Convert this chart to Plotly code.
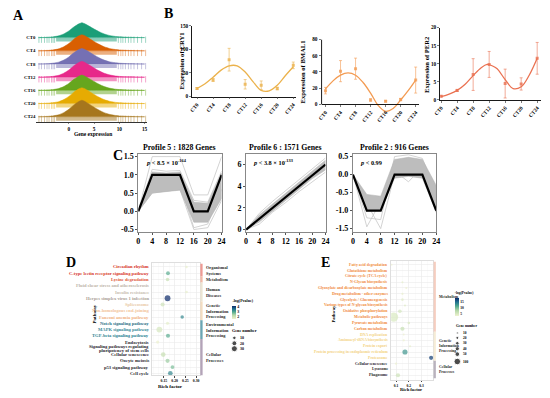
import plotly.graph_objects as go

W, H = 550, 398
SERIF = "Liberation Serif, Times New Roman, serif"

# ---------------- DATA ----------------
# Panel A: ridgeline densities
CT_LABELS = ["CT0", "CT4", "CT8", "CT12", "CT16", "CT20", "CT24"]
CT_HOURS = [0, 4, 8, 12, 16, 20, 24]
RIDGE_COLORS = ["#1b9e77", "#d95f02", "#7570b3", "#e7298a", "#66a61e", "#e6ab02", "#a6761d"]
DENS_X = [-6, -4, -3, -2, -1, 0, 1, 2, 2.6, 3.2, 4, 5, 6, 7, 8, 9, 10, 12, 15]
DENS_Y = [0.0, 0.02, 0.06, 0.12, 0.25, 0.45, 0.72, 0.93, 1.0, 0.93, 0.78, 0.58, 0.4, 0.25, 0.15, 0.09, 0.05, 0.02, 0.0]
RIDGE_PEAK = [1.12, 1.22, 1.18, 1.2, 1.16, 1.2, 1.25]
RUG_CORE = [-2.5, 9.5]
RUG_TICKS = [-5.9, -5.4, -4.8, -4.3, -3.9, -3.4, -3.1, -2.8, 9.8, 10.3, 10.7, 11.2, 11.8, 12.3, 12.9, 13.6, 14.4, 15.2]
A_XTICKS = [0, 5, 10, 15]

# Panel B: clock genes (mean, error) and fitted curves
GENES = ["CRY1", "BMAL1", "PER2"]
CRY1_MEAN = [17, 35, 78, 26, 24, 17, 66]
CRY1_ERR = [2, 3, 24, 10, 9, 3, 7]
BMAL1_MEAN = [17, 41, 44, 5.5, 4, 6, 30]
BMAL1_ERR = [4, 13, 13, 1.5, 1, 1.5, 16]
PER2_MEAN = [1.0, 2.6, 7.0, 9.8, 4.5, 4.4, 11.5]
PER2_ERR = [0.2, 0.3, 4.4, 3.6, 4.0, 1.7, 4.4]
FIT_T = [0, 2, 4, 6, 8, 10, 12, 14, 16, 18, 20, 22, 24]
CRY1_FIT = [17, 27, 41, 56, 65, 65, 52, 31, 13, 12, 24, 44, 63]
BMAL1_FIT = [19, 29, 36, 38.8, 36, 27, 14, -1, -8.5, -5, 5.5, 17, 30]
PER2_FIT_T = [0, 2, 4, 6, 8, 10, 11.5, 13, 14, 16, 18, 20, 22, 24]
PER2_FIT = [0.9, 1.6, 2.6, 4.3, 6.7, 8.9, 9.8, 9.3, 8.6, 5.6, 3.1, 3.6, 6.8, 11.5]
B_YTICKS = [[0, 50, 100, 150], [0, 20, 40, 60, 80], [0, 5, 10, 15, 20]]

# Panel C: STEM profiles
C_T = [0, 4, 8, 12, 16, 20, 24]
PROF_TITLES = ["Profile 5 : 1828 Genes", "Profile 6 : 1571 Genes", "Profile 2 : 916 Genes"]
PROF_P = ["<i>p</i> < 8.5 × 10<sup>-164</sup>", "<i>p</i> < 3.8 × 10<sup>-133</sup>", "<i>p</i> < 0.99"]
PROF5 = [0, 1, 1, 1, 0, 0, 1]
PROF6 = [0, 1, 2, 3, 4, 5, 6]
PROF2 = [0, -1, -1, 0, 0, 0, -1]
BAND5_HI = [0, 1.08, 1.05, 1.08, 0.25, 0.22, 1.05]
BAND5_LO = [0, 0.5, 0.55, 0.58, -0.3, -0.3, 0.35]
BAND6_HI = [0, 1.35, 2.35, 3.35, 4.4, 5.4, 6.4]
BAND6_LO = [0, 0.7, 1.7, 2.7, 3.7, 4.7, 5.5]
BAND2_HI = [0, -0.55, -0.6, 0.42, 0.48, 0.42, -0.3]
BAND2_LO = [0, -1.02, -1.0, -0.1, -0.05, -0.1, -1.05]
OUT5 = [[0, 1.5, 1.5, 1.5, 0.45, 0.45, 1.5], [0, 1.15, 1.1, 1.12, 0.3, 0.25, 1.1],
        [0, 0.5, 0.55, 0.6, -0.5, -0.45, 0.3], [0, 0.7, 0.8, 0.75, -0.45, -0.35, 0.6]]
OUT6 = [[0, 1.5, 2.6, 3.6, 4.6, 5.6, 6.6], [0, 0.5, 1.6, 2.5, 3.5, 4.4, 5.3]]
OUT2 = [[0, -1.45, -0.75, 0.1, 0.3, 0.2, -0.6], [0, -0.8, -1.5, 0.0, 0.2, 0.3, -0.7],
        [0, -1.2, -1.25, 0.5, 0.55, 0.45, -0.5], [0, -0.7, -0.7, 0.1, -0.2, 0.2, -0.9]]

# Panel D: KEGG enrichment
D_PATHWAYS = ["Circadian rhythm", "C-type lectin receptor signaling pathway", "Lysine degradation",
              "Fluid shear stress and atherosclerosis", "Insulin resistance", "Herpes simplex virus 1 infection",
              "Spliceosome", "Non-homologous end-joining", "Fanconi anemia pathway",
              "Notch signaling pathway", "MAPK signaling pathway", "TGF-beta signaling pathway",
              "Endocytosis", "Signaling pathways regulating<br>pluripotency of stem cells", "Cellular senescence",
              "Oocyte meiosis", "p53 signaling pathway", "Cell cycle"]
D_TEXT_COLORS = ["#d7372a", "#d7372a", "#e0583a", "#bdb4a8", "#c9c0b2", "#aba198",
                 "#e9caa6", "#f2c39a", "#f0b283", "#2b6f86", "#3a8a9a", "#2a7f90",
                 "#2b1f2f", "#2b1f2f", "#2b1f2f", "#2b1f2f", "#2b1f2f", "#2b1f2f"]
D_ROW = [0, 1, 2, 4, 5, 6, 8, 9, 10, 11, 12, 14, 15, 16, 17]
D_RICH = [0.255, 0.169, 0.167, 0.255, 0.167, 0.144, 0.235, 0.167, 0.129, 0.169, 0.121, 0.147, 0.167, 0.19, 0.18]
D_COUNT = [5, 12, 10, 6, 28, 14, 10, 8, 28, 14, 8, 18, 14, 12, 18]
D_LOGP = [1.75, 3.0, 2.2, 1.75, 4.3, 2.1, 3.4, 1.8, 2.0, 3.0, 1.7, 2.2, 2.6, 2.8, 3.4]
D_CATS = ["Organismal<br>Systems", "Metabolism", "Human<br>Diseases", "Genetic<br>Information<br>Processing",
          "Environmental<br>Information<br>Processing", "Cellular<br>Processes"]
D_CAT_ROWS = [[0, 1], [2, 2], [3, 5], [6, 8], [9, 11], [12, 17]]
D_CAT_COLORS = ["#ee9a94", "#f2b9a6", "#ece4d2", "#f3dcc0", "#6aa6b4", "#b3a3b8"]
D_XTICKS = [0.15, 0.20, 0.25, 0.30]
D_SIZE_LEG = [10, 20, 30]
D_CB_TICKS = [2, 3, 4]

# Panel E: KEGG enrichment
E_PATHWAYS = ["Fatty acid degradation", "Glutathione metabolism", "Citrate cycle (TCA cycle)",
              "N-Glycan biosynthesis", "Glyoxylate and dicarboxylate metabolism", "Drug metabolism - other enzymes",
              "Glycolysis / Gluconeogenesis", "Various types of N-glycan biosynthesis", "Oxidative phosphorylation",
              "Metabolic pathways", "Pyruvate metabolism", "Carbon metabolism", "DNA replication",
              "Aminoacyl-tRNA biosynthesis", "Protein export", "Protein processing in endoplasmic reticulum",
              "Proteasome", "Cellular senescence", "Lysosome", "Phagosome"]
E_TEXT_COLORS = ["#f08a3c"] * 12 + ["#f3d384"] * 5 + ["#2a1e2a"] * 3
E_ROW = [0, 3, 4, 5, 6, 7, 8, 9, 10, 11, 12, 13, 14, 15, 16, 17, 19]
E_RICH = [0.065, 0.15, 0.18, 0.15, 0.15, 0.17, 0.13, 0.08, 0.2, 0.15, 0.16, 0.16, 0.21, 0.17, 0.375, 0.1, 0.115]
E_COUNT = [8, 10, 10, 12, 15, 10, 30, 200, 15, 40, 8, 12, 10, 60, 40, 10, 40]
E_LOGP = [3.5, 4.0, 3.5, 3.8, 4.5, 4.5, 5.5, 5.0, 5.0, 6.5, 3.5, 3.5, 4.0, 13.0, 18.0, 3.4, 6.0]
E_CATS = ["Metabolism", "Genetic<br>Information<br>Processing", "Cellular<br>Processes"]
E_CAT_ROWS = [[0, 11], [12, 16], [17, 19]]
E_CAT_COLORS = ["#f5cdbf", "#f6ecd6", "#b9b2bd"]
E_XTICKS = [0.1, 0.2, 0.3]
E_SIZE_LEG = [10, 20, 30, 40, 50, 100]
E_CB_TICKS = [5, 10, 15]

CSCALE = [[0, "#eef2d0"], [0.3, "#b5d8a8"], [0.55, "#4fa88e"], [0.78, "#1f6f8f"], [1, "#0b2a6a"]]


# ---------------- helpers ----------------
def dx(p0, p1):
    return [p0 / W, p1 / W]


def dy(p0, p1):
    return [1 - p1 / H, 1 - p0 / H]


def rgba(hexc, a):
    h = hexc.lstrip("#")
    return "rgba(%d,%d,%d,%.2f)" % (int(h[0:2], 16), int(h[2:4], 16), int(h[4:6], 16), a)


def d_size(n):
    return 1.1 * n ** 0.5


def e_size(n):
    return 0.66 * n ** 0.5


def font(size, color="#000", bold=True, family=SERIF):
    return dict(family=family, size=size, color=color, weight="bold" if bold else "normal")


fig = go.Figure()
ann = []
shapes = []

# ---------------- Panel A ----------------
nrow = len(CT_LABELS)
for i in range(nrow):
    base = nrow - 1 - i
    col = RIDGE_COLORS[i]
    ys = [base + RIDGE_PEAK[i] * d for d in DENS_Y]
    fig.add_trace(go.Scatter(x=DENS_X + DENS_X[::-1], y=ys + [base] * len(DENS_X), fill="toself",
                             fillcolor=col, line=dict(color=col, width=0.5, shape="spline", smoothing=0.6), mode="lines",
                             xaxis="x", yaxis="y", hoverinfo="skip", showlegend=False))
    fig.add_trace(go.Scatter(x=[RUG_CORE[0], RUG_CORE[1], RUG_CORE[1], RUG_CORE[0]],
                             y=[base - 0.3, base - 0.3, base - 0.02, base - 0.02], fill="toself",
                             fillcolor=rgba(col, 0.5), line=dict(width=0), mode="lines",
                             xaxis="x", yaxis="y", hoverinfo="skip", showlegend=False))
    fig.add_trace(go.Scatter(x=RUG_TICKS, y=[base - 0.16] * len(RUG_TICKS), mode="markers",
                             marker=dict(symbol="line-ns", size=4.5, line=dict(width=0.7, color=rgba(col, 0.6))),
                             xaxis="x", yaxis="y", hoverinfo="skip", showlegend=False))

# ---------------- Panel B ----------------
b_means = [CRY1_MEAN, BMAL1_MEAN, PER2_MEAN]
b_errs = [CRY1_ERR, BMAL1_ERR, PER2_ERR]
b_fit_t = [FIT_T, FIT_T, PER2_FIT_T]
b_fits = [CRY1_FIT, BMAL1_FIT, PER2_FIT]
b_cols = ["#ebb24c", "#f39b52", "#ea7252"]
for k in range(3):
    ax = str(k + 2)
    fig.add_trace(go.Scatter(x=b_fit_t[k], y=b_fits[k], mode="lines", line=dict(color=b_cols[k], width=1.3, shape="spline", smoothing=1.0),
                             xaxis="x" + ax, yaxis="y" + ax, hoverinfo="skip", showlegend=False))
    fig.add_trace(go.Scatter(x=CT_HOURS, y=b_means[k], mode="markers",
                             marker=dict(symbol="square", size=3, color=b_cols[k], opacity=0.8),
                             error_y=dict(type="data", array=b_errs[k], color=rgba(b_cols[k], 0.75), thickness=0.8, width=1.5),
                             xaxis="x" + ax, yaxis="y" + ax, hoverinfo="skip", showlegend=False))

# ---------------- Panel C ----------------
profs = [PROF5, PROF6, PROF2]
bands = [(BAND5_HI, BAND5_LO), (BAND6_HI, BAND6_LO), (BAND2_HI, BAND2_LO)]
outs = [OUT5, OUT6, OUT2]
for k in range(3):
    ax = str(k + 5)
    hi, lo = bands[k]
    for o in outs[k]:
        fig.add_trace(go.Scatter(x=C_T, y=o, mode="lines", line=dict(color="#c8c8c8", width=0.8),
                                 xaxis="x" + ax, yaxis="y" + ax, hoverinfo="skip", showlegend=False))
    fig.add_trace(go.Scatter(x=C_T + C_T[::-1], y=hi + lo[::-1], fill="toself", fillcolor="#bdbdbd",
                             line=dict(color="#b0b0b0", width=0.5), mode="lines",
                             xaxis="x" + ax, yaxis="y" + ax, hoverinfo="skip", showlegend=False))
    fig.add_trace(go.Scatter(x=C_T, y=profs[k], mode="lines", line=dict(color="#000", width=2.2),
                             xaxis="x" + ax, yaxis="y" + ax, hoverinfo="skip", showlegend=False))

# ---------------- Panel D / E ----------------
fig.add_trace(go.Scatter(x=D_RICH, y=D_ROW, mode="markers",
                         marker=dict(size=[d_size(n) for n in D_COUNT], color=D_LOGP, coloraxis="coloraxis", line=dict(width=0)),
                         xaxis="x8", yaxis="y8", hoverinfo="skip", showlegend=False))
fig.add_trace(go.Scatter(x=E_RICH, y=E_ROW, mode="markers",
                         marker=dict(size=[e_size(n) for n in E_COUNT], color=E_LOGP, coloraxis="coloraxis2", line=dict(width=0)),
                         xaxis="x9", yaxis="y9", hoverinfo="skip", showlegend=False))

# size legends (overlay pixel canvas)
d_leg_y = [340, 345.5, 351]
fig.add_trace(go.Scatter(x=[232] * 3, y=d_leg_y, mode="markers",
                         marker=dict(size=[d_size(n) for n in D_SIZE_LEG], color="#000"),
                         xaxis="x10", yaxis="y10", hoverinfo="skip", showlegend=False))
e_leg_y = [335, 340, 345.5, 351, 356.5, 364]
fig.add_trace(go.Scatter(x=[459.5] * 6, y=e_leg_y, mode="markers",
                         marker=dict(size=[e_size(n) for n in E_SIZE_LEG], color="#000"),
                         xaxis="x10", yaxis="y10", hoverinfo="skip", showlegend=False))
for v, yy in zip(D_SIZE_LEG, d_leg_y):
    ann.append(dict(x=236, y=yy, xref="x10", yref="y10", text=str(v), showarrow=False, xanchor="left", font=font(4)))
for v, yy in zip(E_SIZE_LEG, e_leg_y):
    ann.append(dict(x=463, y=yy, xref="x10", yref="y10", text=str(v), showarrow=False, xanchor="left", font=font(3.5)))
ann.append(dict(x=228, y=333, xref="x10", yref="y10", text="Gene number", showarrow=False, xanchor="left", font=font(4.2)))
ann.append(dict(x=456, y=328, xref="x10", yref="y10", text="Gene number", showarrow=False, xanchor="left", font=font(3.6)))

# D labels (multi-line labels split into separate lines for tight spacing)
for i, (t, c) in enumerate(zip(D_PATHWAYS, D_TEXT_COLORS)):
    parts = t.split("<br>")
    offs = [0] if len(parts) == 1 else [-0.33, 0.33]
    for p, o in zip(parts, offs):
        ann.append(dict(x=146.5 / W, y=i + o, xref="paper", yref="y8", text=p, showarrow=False, xanchor="right",
                        align="right", font=font(4.6, c)))
for (r0, r1), c, t in zip(D_CAT_ROWS, D_CAT_COLORS, D_CATS):
    shapes.append(dict(type="rect", xref="paper", yref="y8", x0=197.3 / W, x1=199.6 / W, y0=r0 - 0.5, y1=r1 + 0.5,
                       fillcolor=c, line=dict(width=0)))
    ann.append(dict(x=201 / W, y=(r0 + r1) / 2, xref="paper", yref="y8", text=t, showarrow=False, xanchor="left",
                    align="left", font=font(4.3, "#2a2a2a")))
for i, (t, c) in enumerate(zip(E_PATHWAYS, E_TEXT_COLORS)):
    ann.append(dict(x=391 / W, y=i, xref="paper", yref="y9", text=t, showarrow=False, xanchor="right",
                    align="right", font=font(3.9, c)))
for (r0, r1), c, t in zip(E_CAT_ROWS, E_CAT_COLORS, E_CATS):
    shapes.append(dict(type="rect", xref="paper", yref="y9", x0=435.3 / W, x1=437.6 / W, y0=r0 - 0.5, y1=r1 + 0.5,
                       fillcolor=c, line=dict(width=0)))
    ann.append(dict(x=438.5 / W, y=(r0 + r1) / 2, xref="paper", yref="y9", text=t, showarrow=False, xanchor="left",
                    align="left", font=font(3.8, "#2a2a2a")))


# ---------------- text annotations ----------------
def pa(x, y, text, size, rot=0, anchor="center", color="#000", bold=True):
    ann.append(dict(x=x, y=y, xref="x10", yref="y10", text=text, showarrow=False, textangle=rot,
                    xanchor=anchor, yanchor="middle", font=font(size, color, bold)))


for lab, x, y in [("A", 12, 13), ("B", 165, 11), ("C", 113, 155), ("D", 65, 263), ("E", 325, 263)]:
    pa(x, y, lab, 14)
pa(88, 133, "Gene expression", 5.5)
pa(178, 59, "Expression of CRY1", 6.6, rot=-90)
pa(301.5, 70, "Expression of BMAL1", 6.6, rot=-90)
pa(427.5, 62, "Expression of PER2", 6.6, rot=-90)
for k, cx in enumerate([176.5, 284.5, 395.5]):
    pa(cx, 146.5, PROF_TITLES[k], 7.8)
for k, x0 in enumerate([140, 249, 358]):
    pa(x0, 161.5, PROF_P[k], 6.3, anchor="left")
pa(89, 316, "Pathway", 5, rot=-90)
pa(167, 389, "Rich factor", 5)
pa(333, 315, "Pathway", 4.5, rot=-90)
pa(412, 392.5, "Rich factor", 4.6)


# ---------------- layout ----------------
def laxis(dom, rng, **kw):
    d = dict(domain=dom, range=rng, showgrid=False, zeroline=False, fixedrange=True)
    d.update(kw)
    return d


layout = dict(width=W, height=H, margin=dict(l=0, r=0, t=0, b=0, pad=0), autosize=False,
              paper_bgcolor="white", plot_bgcolor="rgba(0,0,0,0)", showlegend=False,
              font=dict(family=SERIF))

# A
layout["xaxis"] = laxis(dx(30, 143), [-6.4, 15.5], anchor="y", showline=True, linecolor="#000", linewidth=0.8,
                        ticks="outside", ticklen=1.5, tickwidth=0.6, tickvals=A_XTICKS, tickfont=font(5.3))
layout["yaxis"] = laxis(dy(3, 121), [-0.41, 8.4], anchor="x", showline=False,
                        tickvals=[nrow - 1 - i for i in range(nrow)], ticktext=CT_LABELS, tickfont=font(4.8), ticks="")

# B
b_dom_x = [dx(189, 295), dx(321, 420), dx(442, 545)]
b_dom_y = [dy(23, 95), dy(37, 112), dy(25, 98.3)]
b_xr = [[-1.2, 24.7], [-1.04, 24.78], [-0.245, 24.98]]
b_yr = [[0, 150], [-10.9, 80], [0, 20]]
for k in range(3):
    n = str(k + 2)
    xa = laxis(b_dom_x[k], b_xr[k], showline=True, linecolor="#000", linewidth=0.9, ticks="outside",
               ticklen=2, tickwidth=0.7, tickvals=CT_HOURS, ticktext=CT_LABELS, tickangle=-50, tickfont=font(5.3))
    if k == 1:
        xa.update(anchor="free", position=1 - 103 / H)
    else:
        xa.update(anchor="y" + n)
    layout["xaxis" + n] = xa
    ya = laxis(b_dom_y[k], b_yr[k], anchor="x" + n, showline=(k != 1), linecolor="#000", linewidth=0.9,
               ticks="outside", ticklen=2, tickwidth=0.7, tickvals=B_YTICKS[k], tickfont=font(5.3))
    layout["yaxis" + n] = ya
shapes.append(dict(type="line", xref="x3 domain", yref="y3", x0=0, x1=0, y0=0, y1=80, line=dict(color="#000", width=0.9)))

# C
c_dom_x = [dx(134, 219), dx(244, 325), dx(353, 438)]
c_yr = [[-0.554, 1.58], [-0.18, 7.0], [-1.58, 0.58]]
c_yt = [[-0.5, 0, 0.5, 1.0, 1.5], [0, 2, 4, 6], [-1.5, -1.0, -0.5, 0, 0.5]]
c_ytt = [["-0.5", "0.0", "0.5", "1.0", "1.5"], ["0", "2", "4", "6"], ["-1.5", "-1.0", "-0.5", "0.0", "0.5"]]
for k in range(3):
    n = str(k + 5)
    layout["xaxis" + n] = laxis(c_dom_x[k], [0, 24], anchor="y" + n, showline=True, mirror=True, linecolor="#888",
                                linewidth=1, ticks="outside", ticklen=2, tickcolor="#555", tickvals=C_T, tickfont=font(8))
    layout["yaxis" + n] = laxis(dy(153, 232), c_yr[k], anchor="x" + n, showline=True, mirror=True, linecolor="#888",
                                linewidth=1, ticks="outside", ticklen=2, tickcolor="#555", tickvals=c_yt[k],
                                ticktext=c_ytt[k], tickfont=font(8))

# D & E
grid = dict(showgrid=True, gridcolor="#ebebeb", gridwidth=0.6)
layout["xaxis8"] = laxis(dx(148, 197), [0.095, 0.318], anchor="y8", showline=True, mirror=True, linecolor="#d0d0d0",
                         linewidth=0.7, ticks="outside", ticklen=1.5, tickcolor="#444", tickvals=D_XTICKS,
                         ticktext=["0.15", "0.20", "0.25", "0.30"], tickfont=font(3.8),
                         minor=dict(showgrid=True, gridcolor="#f4f4f4", gridwidth=0.4, dtick=0.025, tick0=0.125), **grid)
layout["yaxis8"] = laxis(dy(264, 378), [17.31, -0.63], anchor="x8", showline=True, mirror=True, linecolor="#d0d0d0",
                         linewidth=0.7, tickvals=list(range(len(D_PATHWAYS))), showticklabels=False, ticks="", **grid)
layout["xaxis9"] = laxis(dx(392, 435), [0.0615, 0.392], anchor="y9", showline=True, mirror=True, linecolor="#d0d0d0",
                         linewidth=0.7, ticks="outside", ticklen=1.5, tickcolor="#444", tickvals=E_XTICKS,
                         ticktext=["0.1", "0.2", "0.3"], tickfont=font(3.6),
                         minor=dict(showgrid=True, gridcolor="#f4f4f4", gridwidth=0.4, dtick=0.05, tick0=0.05), **grid)
layout["yaxis9"] = laxis(dy(262, 383), [19.85, -0.63], anchor="x9", showline=True, mirror=True, linecolor="#d0d0d0",
                         linewidth=0.7, tickvals=list(range(len(E_PATHWAYS))), showticklabels=False, ticks="", **grid)

# overlay pixel canvas
layout["xaxis10"] = dict(domain=[0, 1], range=[0, W], visible=False, anchor="y10", fixedrange=True)
layout["yaxis10"] = dict(domain=[0, 1], range=[H, 0], visible=False, anchor="x10", fixedrange=True)

layout["coloraxis"] = dict(colorscale=CSCALE, cmin=1.67, cmax=4.22,
                           colorbar=dict(x=230 / W, xanchor="left", y=1 - 297 / H, yanchor="top", len=23, lenmode="pixels",
                                         thickness=4, xpad=0, ypad=0, outlinewidth=0, tickvals=D_CB_TICKS, ticks="",
                                         tickfont=font(4), title=dict(text="-log(Pvalue)", side="top", font=font(4))))
layout["coloraxis2"] = dict(colorscale=CSCALE, cmin=3.3, cmax=18.9,
                            colorbar=dict(x=457 / W, xanchor="left", y=1 - 290 / H, yanchor="top", len=27, lenmode="pixels",
                                          thickness=4, xpad=0, ypad=0, outlinewidth=0, tickvals=E_CB_TICKS, ticks="",
                                          tickfont=font(3.6), title=dict(text="-log(Pvalue)", side="top", font=font(3.6))))
layout["annotations"] = ann
layout["shapes"] = shapes
fig.update_layout(**layout)
fig.write_html("out.html", config={"displayModeBar": False, "staticPlot": True},
               post_script="document.body.style.margin='0px';document.body.style.overflow='hidden';")
